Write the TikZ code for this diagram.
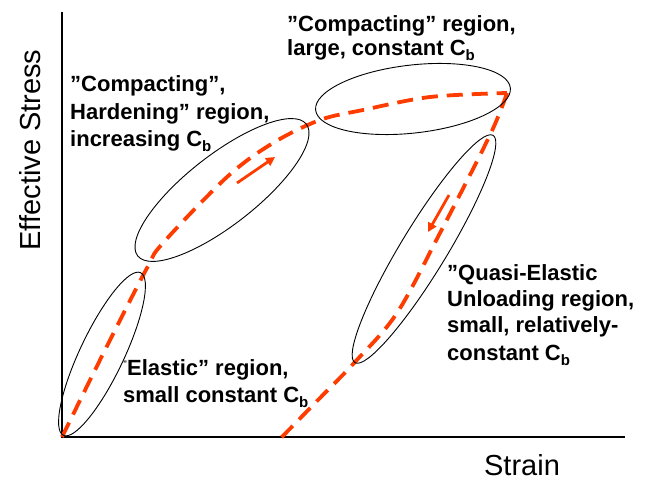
\documentclass[tikz,border=0pt]{standalone}
\usepackage{fontspec}
\setmainfont{Liberation Sans}
\usetikzlibrary{arrows.meta}
\definecolor{curvered}{RGB}{255,60,0}
\newcommand{\SubCb}{C\raisebox{-5pt}{\fontsize{15}{15}\selectfont b}}
\newcommand{\TinyQuote}{\raisebox{9pt}{\fontsize{8}{8}\selectfont ”}}
\begin{document}
\begin{tikzpicture}[x=1pt,y=1pt,
  axis/.style={line width=2.4pt},
  region/.style={line width=0.9pt},
  curve/.style={curvered, line width=3.8pt, dash pattern=on 16pt off 9pt},
  dirarrow/.style={curvered, line width=2.8pt, -{Triangle[length=9pt,width=9pt]}},
  lab/.style={font=\fontsize{22}{27}\selectfont\bfseries, anchor=base west, inner sep=0pt},
  axlab/.style={font=\fontsize{29}{34}\selectfont, inner sep=0pt}]
\useasboundingbox (0,0) rectangle (651,480);
% axes
\coordinate (O) at (62,43);
\coordinate (ytop) at (62,468);
\coordinate (xend) at (625,43);
\draw[axis] (ytop) -- (O) -- (xend);
% loading curve
\draw[curve] plot[smooth, tension=0.55] coordinates {(62,43) (105,130) (147,212) (163,237) (227,303) (273,337) (320,360) (363,370) (430,383) (507,387)};
% unloading curve
\draw[curve] plot[smooth, tension=0.55] coordinates {(507,387) (490,345) (440,247) (397,167) (355,118) (318,80) (279,40)};
% region ellipses
\draw[region, rotate around={64.6:(102,126)}] (102,126) ellipse [x radius=90, y radius=22];
\draw[region, rotate around={38:(222,290)}] (222,290) ellipse [x radius=107, y radius=35];
\draw[region, rotate around={6.5:(413,381)}] (413,381) ellipse [x radius=98, y radius=34];
\draw[region, rotate around={58.7:(424,231)}] (424,231) ellipse [x radius=133, y radius=23];
% direction arrows
\coordinate (a1s) at (237,297);
\coordinate (a1e) at (275,323);
\draw[dirarrow] (a1s) -- (a1e);
\coordinate (a2s) at (449,285);
\coordinate (a2e) at (428,248);
\draw[dirarrow] (a2s) -- (a2e);
% labels
\node[lab] (h1) at (70,388) {”Compacting”,};
\node[lab] (h2) at (70,360) {Hardening” region,};
\node[lab] (h3) at (70,333) {increasing \SubCb};
\node[lab] (c1) at (287,448) {”Compacting” region,};
\node[lab] (c2) at (287,424) {large, constant \SubCb};
\node[lab] (e1) at (123,105) {\TinyQuote Elastic” region,};
\node[lab] (e2) at (123,78) {small constant \SubCb};
\node[lab] (q1) at (447,200) {”Quasi-Elastic};
\node[lab] (q2) at (447,173) {Unloading region,};
\node[lab] (q3) at (447,147) {small, relatively-};
\node[lab] (q4) at (447,120) {constant \SubCb};
% axis labels
\node[axlab, rotate=90, anchor=base] (ylab) at (40,330) {Effective Stress};
\node[axlab, anchor=base] (xlab) at (522,5) {Strain};
\end{tikzpicture}
\end{document}
